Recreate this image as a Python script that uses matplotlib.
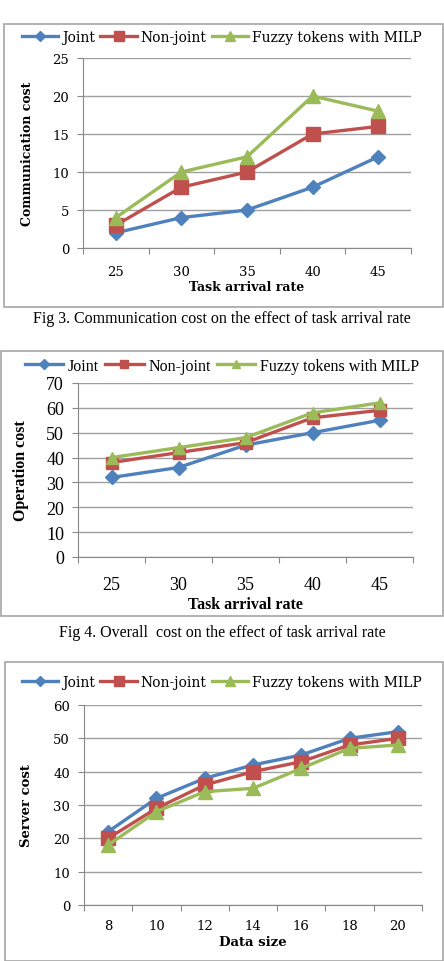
import numpy as np
import matplotlib.pyplot as plt
from matplotlib.patches import Rectangle

# Data
series_names = ['Joint', 'Non-joint', 'Fuzzy tokens with MILP']
rate_labels = ['25', '30', '35', '40', '45']
comm_joint = [2, 4, 5, 8, 12]
comm_nonjoint = [3, 8, 10, 15, 16]
comm_fuzzy = [4, 10, 12, 20, 18]

op_joint = [32, 36, 45, 50, 55]
op_nonjoint = [38, 42, 46, 56, 59]
op_fuzzy = [40, 44, 48, 58, 62]

size_labels = ['8', '10', '12', '14', '16', '18', '20']
srv_joint = [22, 32, 38, 42, 45, 50, 52]
srv_nonjoint = [20, 29, 36, 40, 43, 48, 50]
srv_fuzzy = [18, 28, 34, 35, 41, 47, 48]

colors = ['#4F81BD', '#C0504D', '#9BBB59']
markers = ['D', 's', '^']

W, H = 444, 962
fig = plt.figure(figsize=(W / 100, H / 100), dpi=100)
fig.patch.set_facecolor('white')


def px_axes(l, t, r, b):
    return fig.add_axes([l / W, 1 - b / H, (r - l) / W, (b - t) / H])


def frame(l, t, r, b):
    fig.patches.append(Rectangle((l / W, 1 - b / H), (r - l) / W, (b - t) / H,
                                 transform=fig.transFigure, fill=False,
                                 edgecolor='#a6a6a6', lw=1.2))


def panel(box, data, labels, ymax, ystep, ylabel, xlabel, legend_y,
          font, tick_fs, lab_fs, leg_fs, msizes, xlab_pad, ylab_x, hlen=2.6):
    ax = px_axes(*box)
    x = np.arange(len(labels)) + 0.5
    for vals, c, m, ms, name in zip(data, colors, markers, msizes, series_names):
        ax.plot(x, vals, color=c, marker=m, markersize=ms, lw=2.4, label=name,
                markeredgecolor=c)
    ax.set_xlim(0, len(labels))
    ax.set_ylim(0, ymax)
    ax.set_yticks(np.arange(0, ymax + 1, ystep))
    ax.set_xticks(np.arange(len(labels) + 1))
    ax.set_xticklabels([])
    ax.set_xticks(x, minor=True)
    ax.set_xticklabels(labels, minor=True, family=font, fontsize=tick_fs)
    ax.tick_params(axis='x', which='minor', length=0, pad=xlab_pad)
    ax.tick_params(axis='x', which='major', length=4, color='#888888')
    ax.tick_params(axis='y', length=4, color='#888888', labelsize=tick_fs, pad=6)
    for t in ax.get_yticklabels():
        t.set_family(font)
    ax.yaxis.grid(True, color='#a0a0a0', lw=1)
    ax.set_axisbelow(True)
    for s in ['top', 'right']:
        ax.spines[s].set_visible(False)
    for s in ['left', 'bottom']:
        ax.spines[s].set_color('#888888')
    ax.set_xlabel(xlabel, family=font, fontsize=lab_fs, fontweight='bold', labelpad=2)
    ax.set_ylabel(ylabel, family=font, fontsize=lab_fs, fontweight='bold')
    ax.yaxis.set_label_coords(ylab_x, 0.5)
    fig.legend(*ax.get_legend_handles_labels(), loc='center',
               bbox_to_anchor=(0.5, 1 - legend_y / H), ncol=3, frameon=False,
               prop={'family': font, 'size': leg_fs}, handlelength=hlen,
               columnspacing=0.4, handletextpad=0.3, markerscale=0.7)
    return ax


# Fig 3
frame(4, 25, 443, 308)
ax1 = panel((83, 59, 411, 249), [comm_joint, comm_nonjoint, comm_fuzzy], rate_labels,
            25, 5, 'Communication cost', 'Task arrival rate', 38,
            'DejaVu Serif', 9.5, 9, 10, [7.5, 10, 9.5], 12, -0.15)
fig.text(0.5, 1 - 319 / H, 'Fig 3. Communication cost on the effect of task arrival rate',
         ha='center', va='center', family='Liberation Serif', fontsize=11.5)

# Fig 4
frame(1, 352, 443, 617)
ax2 = panel((78, 384, 413, 558), [op_joint, op_nonjoint, op_fuzzy], rate_labels,
            70, 10, 'Operation cost', 'Task arrival rate', 367,
            'Liberation Serif', 13, 11.5, 11.5, [7, 8, 8], 14, -0.145, hlen=2.4)
fig.text(0.5, 1 - 633 / H, 'Fig 4. Overall  cost on the effect of task arrival rate',
         ha='center', va='center', family='Liberation Serif', fontsize=11.5)

# Fig 5
frame(5, 663, 443, 962)
ax3 = panel((84, 706, 422, 906), [srv_joint, srv_nonjoint, srv_fuzzy], size_labels,
            60, 10, 'Server cost', 'Data size', 683,
            'DejaVu Serif', 9.5, 9.5, 10, [7.5, 10, 9.5], 10, -0.15)

fig.savefig('out.png', dpi=100)
